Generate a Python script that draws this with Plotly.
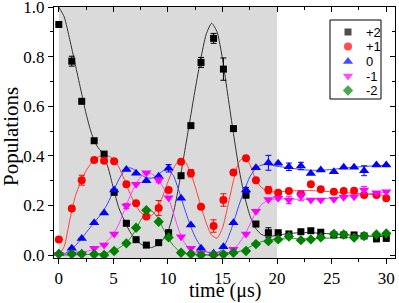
import plotly.graph_objects as go

# measured data
t = [0, 1.19, 2.1, 3.24, 4.15, 5.07, 6.19, 7.08, 8.02, 9.15, 10.06, 11.2, 12.1, 13.03, 14.18,
     15.08, 16.0, 17.15, 18.06, 19.2, 20.1, 21.08, 22.18, 23.09, 24.0, 25.2, 26.1, 27.05, 27.97, 29.1, 30.0]

p2 = [0.93, 0.782, 0.62, 0.461, 0.407, 0.253, 0.128, 0.062, 0.04, 0.05, 0.09, 0.32, 0.522, 0.777, 0.874,
      0.75, 0.51, 0.242, 0.125, 0.09, 0.09, 0.085, 0.094, 0.098, 0.092, 0.081, 0.081, 0.081, 0.077, 0.065, 0.067]
p1 = [0.063, 0.188, 0.302, 0.383, 0.38, 0.378, 0.285, 0.209, 0.155, 0.19, 0.262, 0.376, 0.33, 0.195, 0.117,
      0.222, 0.333, 0.39, 0.302, 0.262, 0.251, 0.258, 0.246, 0.285, 0.265, 0.255, 0.258, 0.259, 0.242, 0.242, 0.229]
p0 = [0.007, 0.027, 0.067, 0.13, 0.17, 0.262, 0.345, 0.33, 0.30, 0.318, 0.35, 0.229, 0.121, 0.027, 0.007,
      0.033, 0.13, 0.262, 0.352, 0.372, 0.37, 0.356, 0.359, 0.329, 0.343, 0.336, 0.354, 0.354, 0.34, 0.363, 0.363]
m1 = [0.003, 0.004, 0.005, 0.027, 0.04, 0.085, 0.198, 0.285, 0.332, 0.302, 0.231, 0.074, 0.027, 0.008, 0.004,
      0.002, 0.023, 0.085, 0.177, 0.224, 0.229, 0.222, 0.239, 0.222, 0.222, 0.225, 0.233, 0.235, 0.262, 0.251, 0.255]
m2 = [0.004, 0.004, 0.004, 0.003, 0.0, 0.016, 0.047, 0.11, 0.181, 0.134, 0.071, 0.009, 0.004, 0.0, 0.0,
      0.003, 0.009, 0.016, 0.044, 0.056, 0.063, 0.075, 0.06, 0.063, 0.071, 0.085, 0.083, 0.07, 0.077, 0.083, 0.087]

e2 = [0, 0.02, 0, 0, 0, 0, 0, 0, 0, 0, 0, 0, 0, 0.02, 0.02,
      0.045, 0, 0.012, 0, 0.02, 0, 0, 0, 0, 0, 0, 0, 0, 0, 0, 0]
e1 = [0, 0, 0.02, 0, 0, 0, 0, 0, 0, 0.03, 0, 0, 0.015, 0, 0.025,
      0.025, 0, 0, 0, 0.015, 0, 0, 0, 0, 0, 0, 0, 0, 0, 0, 0]
e0 = [0, 0, 0, 0, 0, 0, 0, 0, 0, 0, 0.015, 0, 0, 0, 0,
      0, 0, 0.01, 0, 0.03, 0, 0.015, 0.015, 0, 0, 0, 0, 0, 0.02, 0, 0]
em1 = [0, 0, 0, 0, 0, 0, 0.01, 0, 0, 0.01, 0, 0, 0, 0, 0,
       0, 0, 0, 0, 0, 0, 0.015, 0.02, 0, 0, 0, 0, 0, 0.015, 0, 0]
em2 = [0] * 31

# fitted curves
ct = [0, 0.5, 1, 1.5, 2, 2.5, 3, 3.5, 4, 4.5, 5, 5.5, 6, 6.5, 7, 7.5, 8, 8.5, 9, 9.5, 10,
      10.5, 11, 11.5, 12, 12.5, 13, 13.5, 14, 14.5, 15, 15.5, 16, 16.5, 17, 17.5, 18, 18.5, 19, 19.5, 20,
      21, 22, 23, 24, 25, 26, 27, 28, 29, 30]
c2 = [1.0, 0.96, 0.87, 0.77, 0.67, 0.57, 0.49, 0.44, 0.41, 0.355, 0.27, 0.19, 0.14, 0.095, 0.065, 0.045, 0.033, 0.03, 0.04, 0.06, 0.095,
      0.17, 0.28, 0.41, 0.54, 0.67, 0.79, 0.89, 0.935, 0.9, 0.79, 0.64, 0.49, 0.35, 0.24, 0.16, 0.11, 0.085, 0.076, 0.076, 0.08,
      0.086, 0.09, 0.09, 0.088, 0.085, 0.082, 0.08, 0.077, 0.075, 0.074]
c1 = [0.0, 0.035, 0.14, 0.235, 0.295, 0.34, 0.372, 0.393, 0.402, 0.4, 0.387, 0.355, 0.305, 0.25, 0.205, 0.172, 0.157, 0.16, 0.185, 0.235, 0.295,
      0.35, 0.38, 0.38, 0.34, 0.275, 0.2, 0.13, 0.08, 0.068, 0.11, 0.2, 0.3, 0.375, 0.395, 0.365, 0.31, 0.275, 0.26, 0.255, 0.255,
      0.258, 0.26, 0.26, 0.258, 0.255, 0.252, 0.25, 0.246, 0.243, 0.24]
c0 = [0.0, 0.005, 0.017, 0.037, 0.062, 0.09, 0.118, 0.145, 0.172, 0.21, 0.258, 0.305, 0.34, 0.352, 0.342, 0.325, 0.312, 0.31, 0.32, 0.338, 0.345,
      0.32, 0.26, 0.19, 0.125, 0.072, 0.035, 0.014, 0.006, 0.008, 0.025, 0.068, 0.13, 0.2, 0.262, 0.315, 0.348, 0.362, 0.365, 0.362, 0.358,
      0.352, 0.346, 0.342, 0.342, 0.345, 0.35, 0.354, 0.357, 0.36, 0.362]
cm1 = [0.0, 0.001, 0.003, 0.006, 0.01, 0.014, 0.02, 0.028, 0.04, 0.058, 0.085, 0.125, 0.18, 0.235, 0.28, 0.315, 0.33, 0.328, 0.31, 0.278, 0.235,
       0.17, 0.1, 0.05, 0.024, 0.011, 0.005, 0.002, 0.001, 0.001, 0.003, 0.01, 0.024, 0.047, 0.08, 0.122, 0.168, 0.2, 0.217, 0.224, 0.226,
       0.226, 0.225, 0.225, 0.226, 0.23, 0.235, 0.24, 0.245, 0.25, 0.254]
cm2 = [0.0, 0.0, 0.0, 0.001, 0.001, 0.002, 0.003, 0.005, 0.007, 0.011, 0.017, 0.028, 0.043, 0.065, 0.098, 0.14, 0.172, 0.178, 0.155, 0.112, 0.07,
       0.038, 0.017, 0.007, 0.003, 0.001, 0.0, 0.0, 0.0, 0.001, 0.002, 0.004, 0.008, 0.014, 0.022, 0.033, 0.044, 0.053, 0.058, 0.062, 0.064,
       0.066, 0.066, 0.066, 0.067, 0.069, 0.071, 0.073, 0.075, 0.077, 0.08]

labels = ["+2", "+1", "0", "-1", "-2"]
colors = ["#000000", "#ff0000", "#0000ff", "#ff00ff", "#008000"]
line_colors = ["#333333", "#ff4040", "#4040ff", "#ff40ff", "#209020"]
symbols = ["square", "circle", "triangle-up", "triangle-down", "diamond"]
sizes = [7, 8, 9, 9, 8]
series = [p2, p1, p0, m1, m2]
errs = [e2, e1, e0, em1, em2]
curves = [c2, c1, c0, cm1, cm2]

W, H = 399, 303
ML, MR, MT, MB = 54, 4, 7, 45
xr = [-0.44, 30.8]
yr = [-0.012, 1.0005]
pw = W - ML - MR
ph = H - MT - MB


def px_to_x(px):
    return xr[0] + (px - ML) / pw * (xr[1] - xr[0])


def py_to_y(py):
    return yr[0] + ((H - MB) - py) / ph * (yr[1] - yr[0])


fig = go.Figure()

for i in range(5):
    fig.add_trace(go.Scatter(x=ct, y=curves[i], mode="lines", line=dict(color=line_colors[i], width=1, shape="spline", smoothing=0.6),
                             showlegend=False, hoverinfo="skip"))
for i in range(5):
    fig.add_trace(go.Scatter(x=t, y=series[i], mode="markers", name=labels[i], showlegend=False,
                             marker=dict(symbol=symbols[i], size=sizes[i], color=colors[i], line=dict(width=0)),
                             error_y=dict(type="data", array=errs[i], color=colors[i], thickness=1, width=3)))

# dummy trace for mirrored (inside-tick) top/right axes
fig.add_trace(go.Scatter(x=[], y=[], xaxis="x2", yaxis="y2", showlegend=False))

# legend drawn on a pixel-coordinate overlay axis (x3/y3)
leg_x_sym = 348
leg_x_txt = 364
leg_y = [32, 46.5, 61.5, 76, 90.5]
fig.add_trace(go.Scatter(x=[leg_x_sym] * 5, y=leg_y, xaxis="x3", yaxis="y3", mode="markers", showlegend=False,
                         hoverinfo="skip",
                         marker=dict(symbol=symbols, size=sizes, color=colors, line=dict(width=0))))

fig.add_shape(type="rect", xref="x", yref="paper", x0=0, x1=20, y0=0, y1=1,
              fillcolor="#dadada", line=dict(width=0), layer="below")
fig.add_shape(type="rect", xref="x", yref="y", x0=px_to_x(330), x1=px_to_x(381), y0=py_to_y(20), y1=py_to_y(99),
              fillcolor="white", line=dict(color="black", width=1), layer="below")

annotations = [
    dict(text=labels[i], xref="x3", yref="y3", x=leg_x_txt, y=leg_y[i], xanchor="left", yanchor="middle",
         showarrow=False, font=dict(family="Liberation Sans", size=13, color="black"))
    for i in range(5)
]

serif = "Liberation Serif"
annotations += [
    dict(text="time (μs)", xref="paper", yref="paper", x=(225 - ML) / pw, y=-(291 - (H - MB)) / ph,
         xanchor="center", yanchor="middle", showarrow=False, font=dict(family=serif, size=20, color="black")),
    dict(text="Populations", xref="paper", yref="paper", x=(11 - ML) / pw, y=((H - MB) - 137) / ph,
         xanchor="center", yanchor="middle", textangle=-90, showarrow=False,
         font=dict(family=serif, size=21, color="black")),
]

tickfont = dict(family=serif, size=17, color="black")
fig.update_layout(
    width=W, height=H,
    margin=dict(l=ML, r=MR, t=MT, b=MB, autoexpand=False),
    plot_bgcolor="white", paper_bgcolor="white",
    xaxis=dict(range=xr, tickmode="linear", tick0=0, dtick=5, ticks="outside", ticklen=5, tickcolor="black",
               showline=True, linecolor="black", linewidth=1, showgrid=False, zeroline=False, automargin=False,
               minor=dict(dtick=2.5, tick0=0, ticks="outside", ticklen=3, tickcolor="black"),
               tickfont=tickfont, ticklabeloverflow="allow"),
    yaxis=dict(range=yr, tickmode="linear", tick0=0, dtick=0.2, tickformat=".1f", ticks="outside", ticklen=5, tickcolor="black",
               showline=True, linecolor="black", linewidth=1, showgrid=False, zeroline=False, automargin=False,
               minor=dict(dtick=0.1, tick0=0, ticks="outside", ticklen=3, tickcolor="black"),
               tickfont=tickfont, ticklabeloverflow="allow"),
    xaxis2=dict(range=xr, overlaying="x", side="top", tickmode="linear", tick0=0, dtick=5, ticks="inside", ticklen=5,
                tickcolor="black", showticklabels=False, showline=True, linecolor="black", linewidth=1,
                showgrid=False, zeroline=False, automargin=False,
                minor=dict(dtick=2.5, tick0=0, ticks="inside", ticklen=3, tickcolor="black")),
    yaxis2=dict(range=yr, overlaying="y", side="right", tickmode="linear", tick0=0, dtick=0.2, ticks="inside", ticklen=5,
                tickcolor="black", showticklabels=False, showline=True, linecolor="black", linewidth=1,
                showgrid=False, zeroline=False, automargin=False,
                minor=dict(dtick=0.1, tick0=0, ticks="inside", ticklen=3, tickcolor="black")),
    xaxis3=dict(range=[ML, W - MR], overlaying="x", visible=False, automargin=False),
    yaxis3=dict(range=[H - MB, MT], overlaying="y", visible=False, automargin=False),
    showlegend=False,
    annotations=annotations,
)

fig.write_html("out.html", config={"displayModeBar": False},
               post_script="document.body.style.margin='0';")
